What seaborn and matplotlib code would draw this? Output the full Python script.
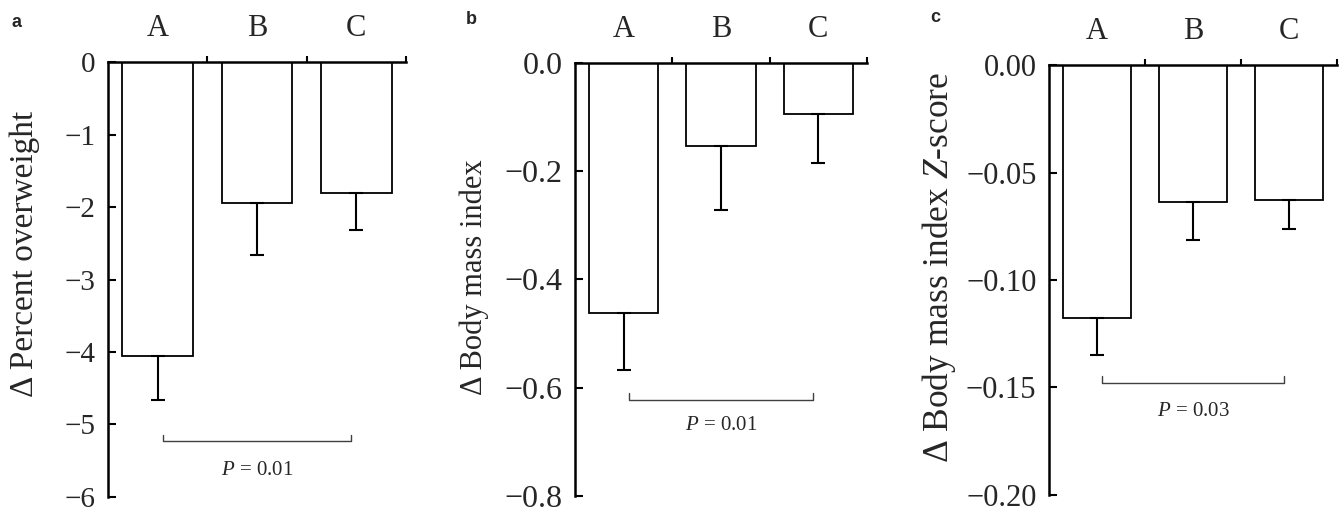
import numpy as np
import matplotlib
matplotlib.use('Agg')
import matplotlib.pyplot as plt
import seaborn as sns
from matplotlib.ticker import FuncFormatter

sns.set_style('white')
plt.rcParams['font.family'] = ['Liberation Serif', 'DejaVu Serif']
plt.rcParams['mathtext.fontset'] = 'custom'
plt.rcParams['mathtext.rm'] = 'Liberation Serif'
plt.rcParams['mathtext.it'] = 'Liberation Serif:italic'

groups = ['A', 'B', 'C']

# a: change in percent overweight (mean, SE)
pct_mean = [-4.05, -1.95, -1.81]
pct_se = [0.61, 0.71, 0.50]

# b: change in body mass index
bmi_mean = [-0.462, -0.154, -0.095]
bmi_se = [0.106, 0.117, 0.090]

# c: change in BMI Z-score
bmiz_mean = [-0.1175, -0.0635, -0.0628]
bmiz_se = [0.0176, 0.0178, 0.0134]

p_values = ['0.01', '0.01', '0.03']

panels = [
    dict(letter='a', mean=pct_mean, se=pct_se, ylabel='Δ Percent overweight',
         rect=[0.0804, 0.0295, 0.2217, 0.849], ymin=-6, nticks=7, dec=0,
         tick_fs=21, lab_fs=24,
         lab_xy=(-0.228, 0.56), br_y=-5.23, br_tip=-5.15, p_y=-5.64,
         letter_xy=(0.0126, 0.957)),
    dict(letter='b', mean=bmi_mean, se=bmi_se, ylabel='Δ Body mass index',
         rect=[0.4278, 0.0314, 0.2173, 0.8455], ymin=-0.8, nticks=5, dec=1,
         tick_fs=23, lab_fs=22,
         lab_xy=(-0.295, 0.505), br_y=-0.622, br_tip=-0.61, p_y=-0.670,
         letter_xy=(0.351, 0.961)),
    dict(letter='c', mean=bmiz_mean, se=bmiz_se, ylabel='Δ Body mass index $Z$-score',
         rect=[0.7805, 0.0333, 0.2143, 0.8397], ymin=-0.2, nticks=5, dec=2,
         tick_fs=22, lab_fs=25.5,
         lab_xy=(-0.316, 0.53), br_y=-0.1478, br_tip=-0.1447, p_y=-0.1612,
         letter_xy=(0.696, 0.966)),
]

fig = plt.figure(figsize=(13.44, 5.12), dpi=100)

for i, pn in enumerate(panels):
    ax = fig.add_axes(pn['rect'])
    sns.barplot(x=groups, y=pn['mean'], color='white', edgecolor='black',
                linewidth=1.3, width=0.71, errorbar=None, ax=ax)
    xs = np.arange(len(groups))
    ax.errorbar(xs, pn['mean'], yerr=[pn['se'], np.zeros(len(groups))],
                fmt='none', ecolor='black', elinewidth=1.5, capsize=5, capthick=1.5)

    ax.set_xlim(-0.5, 2.5)
    ax.set_ylim(pn['ymin'], 0)

    # category axis on top
    ax.xaxis.tick_top()
    ax.set_xticks(xs)
    ax.set_xticklabels(groups)
    ax.set_xticks(xs + 0.5, minor=True)
    ax.tick_params(axis='x', which='major', length=0, pad=14, labelsize=22,
                   top=True, bottom=False)
    ax.tick_params(axis='x', which='minor', length=4, width=1.5, direction='out',
                   top=True, bottom=False, color='black')
    ax.set_xlabel('')

    ax.set_yticks(np.linspace(pn['ymin'], 0, pn['nticks']))
    dec = pn['dec']
    ax.yaxis.set_major_formatter(FuncFormatter(
        lambda v, _, d=dec: (f'{abs(v):.{d}f}' if abs(v) < 1e-9 else f'{v:.{d}f}').replace('-', '\u2212')))
    ax.tick_params(axis='y', direction='in', length=6, width=1.5, labelsize=pn['tick_fs'],
                   pad=9, left=True, color='black')

    for s in ['bottom', 'right']:
        ax.spines[s].set_visible(False)
    for s in ['top', 'left']:
        ax.spines[s].set_linewidth(1.8)
        ax.spines[s].set_color('black')

    ax.set_ylabel(pn['ylabel'], fontsize=pn['lab_fs'])
    ax.yaxis.set_label_coords(*pn['lab_xy'])

    # significance bracket between A and C
    x0, x1 = 0.05, 1.95
    ax.plot([x0, x0, x1, x1], [pn['br_tip'], pn['br_y'], pn['br_y'], pn['br_tip']],
            color='0.25', lw=1.0, clip_on=False)
    ax.text((x0 + x1) / 2, pn['p_y'], f'$P$ = {p_values[i]}', ha='center',
            va='center', fontsize=15)

    fig.text(*pn['letter_xy'], pn['letter'], family='Liberation Sans',
             fontweight='bold', fontsize=13, ha='center', va='center')

fig.savefig('out.png', dpi=100)
